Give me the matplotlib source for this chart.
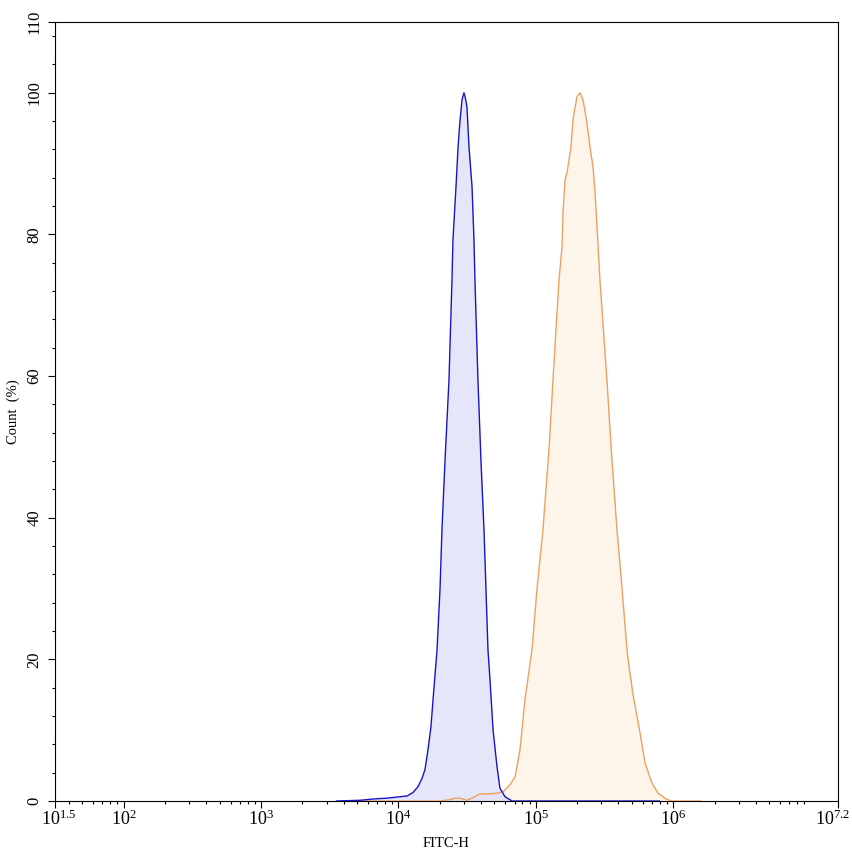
import numpy as np
import matplotlib
matplotlib.use("Agg")
import matplotlib.pyplot as plt
import matplotlib.transforms as mtransforms
from matplotlib.ticker import FixedLocator, LogLocator, NullFormatter

plt.rcParams['font.family'] = ['Liberation Serif', 'DejaVu Serif']
plt.rcParams['mathtext.fontset'] = 'custom'
plt.rcParams['mathtext.rm'] = 'Liberation Serif'
plt.rcParams['mathtext.it'] = 'Liberation Serif:italic'

# ---- data (log10 of FITC-H, count %) ----
blue_log = [3.55, 3.720, 3.829, 3.917, 4.011, 4.062, 4.106, 4.142, 4.172, 4.193, 4.215,
            4.237, 4.252, 4.281, 4.303, 4.317, 4.339, 4.368, 4.390, 4.397, 4.419,
            4.434, 4.448, 4.463, 4.477, 4.485, 4.499, 4.514, 4.536, 4.550, 4.557,
            4.579, 4.601, 4.623, 4.652, 4.667, 4.689, 4.718, 4.739, 4.776, 4.827, 5.9]
blue_cnt = [0.0, 0.1, 0.3, 0.4, 0.6, 0.7, 1.2, 2.0, 3.2, 4.4, 7.2,
            10.5, 14.3, 21.3, 30.0, 38.3, 48.0, 59.4, 73.6, 79.2, 86.7,
            92.3, 96.0, 99.0, 100.0, 99.5, 98.0, 92.3, 86.7, 79.2, 73.6,
            59.4, 48.0, 38.3, 21.3, 17.0, 10.0, 4.8, 1.8, 0.6, 0.0, 0.0]

orange_log = [3.60, 4.303, 4.375, 4.412, 4.448, 4.499, 4.557, 4.594, 4.645, 4.718, 4.761,
              4.812, 4.849, 4.885, 4.921, 4.972, 5.009, 5.052, 5.096, 5.125, 5.169,
              5.191, 5.198, 5.213, 5.227, 5.256, 5.271, 5.300, 5.322, 5.344, 5.373,
              5.395, 5.417, 5.431, 5.446, 5.467, 5.518, 5.555, 5.591, 5.628, 5.664,
              5.686, 5.708, 5.759, 5.795, 5.846, 5.890, 5.955, 5.999, 6.20]
orange_cnt = [0.0, 0.0, 0.2, 0.4, 0.4, 0.1, 0.6, 1.0, 1.0, 1.1, 1.3,
              2.3, 3.4, 7.2, 14.3, 21.3, 30.0, 38.3, 49.6, 59.4, 73.6,
              78.2, 83.0, 87.7, 88.7, 92.3, 96.2, 99.5, 100.0, 99.0, 95.7,
              92.3, 89.5, 86.0, 81.0, 73.6, 59.4, 48.0, 38.3, 30.0, 21.3,
              18.0, 15.0, 9.6, 5.4, 2.5, 1.1, 0.2, 0.0, 0.0]

xtick_exp = [1.5, 2, 3, 4, 5, 6, 7.2]
xtick_labels = [r'$10^{1.5}$', r'$10^{2}$', r'$10^{3}$', r'$10^{4}$', r'$10^{5}$', r'$10^{6}$', r'$10^{7.2}$']
ytick_major = [0, 20, 40, 60, 80, 100, 110]

fig = plt.figure(figsize=(8.53, 8.56), dpi=100)
ax = fig.add_axes([55/853, 1-801/856, (838-55)/853, (801-22)/856])

bx = 10 ** np.array(blue_log)
ox = 10 ** np.array(orange_log)
ax.fill_between(ox, orange_cnt, 0, color='#fdf4ea', lw=0, zorder=1)
ax.fill_between(bx, blue_cnt, 0, color='#dcdcfa', alpha=0.7, lw=0, zorder=2)
ax.plot(ox, orange_cnt, color='#eea05e', lw=1.0, zorder=3)
ax.plot(bx, blue_cnt, color='#1515c8', lw=1.0, zorder=4)

ax.set_xscale('log')
ax.set_xlim(10 ** 1.5, 10 ** 7.2)
ax.set_ylim(0, 110)
ax.xaxis.set_major_locator(FixedLocator([10 ** e for e in xtick_exp]))
ax.set_xticklabels(xtick_labels)
ax.xaxis.set_minor_locator(LogLocator(base=10, subs=np.arange(2, 10), numticks=50))
ax.xaxis.set_minor_formatter(NullFormatter())
ax.yaxis.set_major_locator(FixedLocator(ytick_major))
ax.yaxis.set_minor_locator(FixedLocator(np.arange(0, 111, 4)))

ax.tick_params(axis='x', which='major', length=5, width=0.8, direction='out', labelsize=13, pad=1)
ax.tick_params(axis='y', which='major', length=5, width=0.8, direction='out', labelsize=12, labelrotation=90, pad=4)
ax.tick_params(axis='both', which='minor', length=2.5, width=0.8, direction='out')
for lab in ax.get_yticklabels():
    lab.set_va('center')
for s in ax.spines.values():
    s.set_linewidth(0.8)

# nudge the end labels inward slightly so they stay in the picture
xlabs = ax.get_xticklabels()
xlabs[-1].set_transform(xlabs[-1].get_transform() +
                        mtransforms.ScaledTranslation(-5/100, 0, fig.dpi_scale_trans))
xlabs[0].set_transform(xlabs[0].get_transform() +
                       mtransforms.ScaledTranslation(4/100, 0, fig.dpi_scale_trans))

ax.set_xlabel('FITC-H', fontsize=10.5, labelpad=6)
ax.set_ylabel('Count  (%)', fontsize=10.5, labelpad=5)

fig.savefig('out.png', dpi=100)
